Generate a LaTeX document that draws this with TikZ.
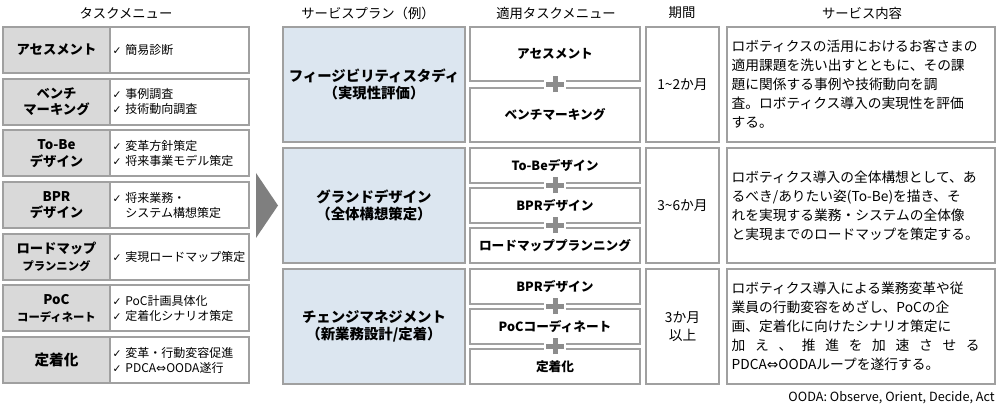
\documentclass[tikz,border=0pt]{standalone}
\usepackage{fontspec}
\setmainfont{Noto Sans CJK JP}
\newfontfamily\symfont{DejaVu Sans}
\usetikzlibrary{calc}
\definecolor{framegray}{HTML}{A0A0A0}
\definecolor{cellgray}{HTML}{D9D9D9}
\definecolor{planblue}{HTML}{DCE6F0}
\definecolor{plusgray}{HTML}{8C8C8C}
\definecolor{arrowgray}{HTML}{7F7F7F}
\newcommand{\chk}{{\symfont\fontsize{8}{8}\selectfont ✓}\ }
\newcommand{\sm}{\fontsize{8.5}{11}\selectfont}
\newcommand{\plusmark}[2]{%
  \coordinate (pm) at ($(#1.south)!0.5!(#2.north)$);
  \draw[white,line width=8pt] ([xshift=-8.5pt]pm) -- ([xshift=8.5pt]pm);
  \draw[white,line width=6.75pt] ([yshift=-7.5pt]pm) -- ([yshift=7.5pt]pm);
  \draw[plusgray,line width=3.75pt] ([xshift=-6.75pt]pm) -- ([xshift=6.75pt]pm);
  \draw[plusgray,line width=3.75pt] ([yshift=-6pt]pm) -- ([yshift=6pt]pm);
}

\begin{document}
\begin{tikzpicture}[x=0.75pt,y=-0.75pt,
  every node/.style={inner sep=0pt},
  head/.style={font=\fontsize{10}{12}\selectfont},
  box/.style={draw=framegray,line width=1.5pt},
  taskname/.style={box,fill=cellgray,minimum width=80.25pt,minimum height=34.5pt,align=center,font=\bfseries\fontsize{10}{12.5}\selectfont},
  taskitem/.style={box,fill=white,minimum height=34.5pt,text width=100.5pt,inner xsep=1.9pt,align=left,font=\fontsize{9}{11.25}\selectfont},
  plan/.style={box,fill=planblue,minimum width=136.5pt,minimum height=86.25pt,align=center,font=\bfseries\fontsize{10.8}{12.5}\selectfont},
  sub/.style={box,fill=white,minimum width=127.5pt,font=\bfseries\fontsize{9.5}{11}\selectfont},
  period/.style={box,fill=white,minimum width=54.75pt,minimum height=86.25pt,align=center,font=\fontsize{10.3}{13.5}\selectfont},
  content/.style={box,fill=white,minimum height=86.25pt,text width=194pt,inner xsep=3.5pt,align=left,font=\fontsize{10.3}{14.3}\selectfont}]
\useasboundingbox (0,0) rectangle (1000,409);

\node[head] (h1) at (126,13) {タスクメニュー};
\node[head] (h2) at (368,13) {サービスプラン（例）};
\node[head] (h3) at (556,13) {適用タスクメニュー};
\node[head] (h4) at (682,13) {期間};
\node[head] (h5) at (862,13) {サービス内容};

\node[taskname] (t1) at (56.5,50) {アセスメント};
\node[taskname] (t2) at (56.5,101.67) {ベンチ\\マーキング};
\node[taskname] (t3) at (56.5,153.33) {To-Be\\デザイン};
\node[taskname] (t4) at (56.5,205) {BPR\\デザイン};
\node[taskname] (t5) at (56.5,256.67) {ロードマップ\\{\sm プランニング}};
\node[taskname] (t6) at (56.5,308.33) {PoC\\{\sm コーディネート}};
\node[taskname] (t7) at (56.5,360) {\fontsize{11}{13}\selectfont 定着化};

\node[taskitem] (i1) at (179.5,50) {\chk 簡易診断};
\node[taskitem] (i2) at (179.5,101.67) {\chk 事例調査\\\chk 技術動向調査};
\node[taskitem] (i3) at (179.5,153.33) {\chk 変革方針策定\\\chk 将来事業モデル策定};
\node[taskitem] (i4) at (179.5,205) {\chk 将来業務・\\\phantom{\chk}システム構想策定};
\node[taskitem] (i5) at (179.5,256.67) {\mbox{\chk 実現ロードマップ策定}};
\node[taskitem] (i6) at (179.5,308.33) {\chk PoC計画具体化\\\chk 定着化シナリオ策定};
\node[taskitem] (i7) at (179.5,360) {\chk 変革・行動変容促進\\\chk PDCA{\symfont ⇔}OODA遂行};

\fill[arrowgray] (256,173) -- (278,205.5) -- (256,238) -- cycle;

\node[plan] (p1) at (374,84.5) {フィージビリティスタディ\\（実現性評価）};
\node[plan] (p2) at (374,205.5) {グランドデザイン\\（全体構想策定）};
\node[plan] (p3) at (374,326.5) {チェンジマネジメント\\（新業務設計/定着）};

\node[sub,minimum height=40.5pt] (s11) at (555,54) {アセスメント};
\node[sub,minimum height=40.5pt] (s12) at (555,115) {ベンチマーキング};
\node[sub,minimum height=26.25pt] (s21) at (555,165.5) {To-Beデザイン};
\node[sub,minimum height=26.25pt] (s22) at (555,205.5) {BPRデザイン};
\node[sub,minimum height=26.25pt] (s23) at (555,245.5) {ロードマッププランニング};
\node[sub,minimum height=26.25pt] (s31) at (555,286.5) {BPRデザイン};
\node[sub,minimum height=26.25pt] (s32) at (555,326.5) {PoCコーディネート};
\node[sub,minimum height=26.25pt] (s33) at (555,366.5) {定着化};

\plusmark{s11}{s12}
\plusmark{s21}{s22}
\plusmark{s22}{s23}
\plusmark{s31}{s32}
\plusmark{s32}{s33}

\node[period] (d1) at (682.5,84.5) {1\textasciitilde 2か月};
\node[period] (d2) at (682.5,205.5) {3\textasciitilde 6か月};
\node[period] (d3) at (682.5,326.5) {3か月\\以上};

\node[content] (c1) at (861,84.5) {ロボティクスの活用におけるお客さまの\\適用課題を洗い出すとともに、その課\\題に関係する事例や技術動向を調\\査。ロボティクス導入の実現性を評価\\する。};
\node[content] (c2) at (861,205.5) {ロボティクス導入の全体構想として、あ\\るべき/ありたい姿(To-Be)を描き、そ\\れを実現する業務・システムの全体像\\と実現までのロードマップを策定する。};
\node[content] (c3) at (861,326.5) {ロボティクス導入による業務変革や従\\業員の行動変容をめざし、PoCの企\\画、定着化に向けたシナリオ策定に\\\leavevmode\hbox to 186pt{加\hfil え\hfil 、\hfil 推\hfil 進\hfil を\hfil 加\hfil 速\hfil さ\hfil せ\hfil る}\\PDCA{\symfont ⇔}OODAループを遂行する。};

\node[anchor=east,font=\fontsize{9.5}{11}\selectfont] (fn) at (995,398) {OODA: Observe, Orient, Decide, Act};
\end{tikzpicture}
\end{document}
